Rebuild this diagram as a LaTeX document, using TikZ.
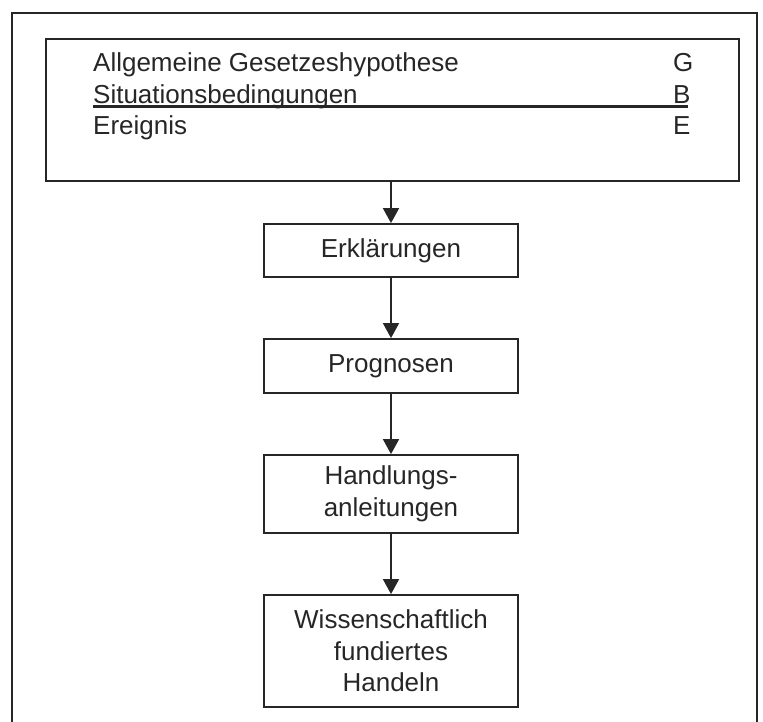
\documentclass[tikz,border=0pt]{standalone}
\usepackage{fontspec}
\setmainfont{Liberation Sans}
\usetikzlibrary{arrows.meta}

\tikzset{
  frameline/.style={line width=1.8pt, draw=black!85},
  flowbox/.style={draw=black!85, line width=1.8pt, minimum width=254pt, inner sep=0pt,
    align=center, font=\fontsize{26}{31.5}\selectfont, text=black!85},
  rowtext/.style={inner sep=0pt, anchor=base west, font=\fontsize{26}{31.5}\selectfont, text=black!85},
  flowarrow/.style={line width=1.8pt, draw=black!85,
    -{Triangle[length=15pt,width=16pt]}}
}

\begin{document}
\begin{tikzpicture}[x=1pt,y=-1pt]
  \useasboundingbox (0,0) rectangle (763,722);

  % outer frame, open at the bottom edge
  \draw[frameline] (12,722) -- (12,13) -- (757,13) -- (757,722);

  % explanation scheme box
  \node[draw=black!85, line width=1.8pt, minimum width=693pt, minimum height=142pt, inner sep=0pt]
    (scheme) at (392.5,110) {};
  \node[rowtext] (lawtxt)  at (93,72)  {Allgemeine Gesetzeshypothese};
  \node[rowtext] (condtxt) at (93,104) {Situationsbedingungen};
  \node[rowtext] (evtxt)   at (93,135) {Ereignis};
  \node[rowtext] (lawsym)  at (673,72)  {G};
  \node[rowtext] (condsym) at (673,104) {B};
  \node[rowtext] (evsym)   at (673,135) {E};
  \draw[line width=2.4pt, black!85] (93,106.5) -- (688,106.5);

  % flow of boxes
  \node[flowbox, minimum height=53pt]  (expl) at (391,250.5) {Erklärungen};
  \node[flowbox, minimum height=54pt]  (prog) at (391,366)   {Prognosen};
  \node[flowbox, minimum height=78pt]  (hand) at (391,494)   {Handlungs-\\anleitungen};
  \node[flowbox, minimum height=112pt] (act)  at (391,651)   {Wissenschaftlich\\fundiertes\\ Handeln};

  % connectors
  \draw[flowarrow] (expl.north |- scheme.south) -- (expl.north);
  \draw[flowarrow] (expl) -- (prog);
  \draw[flowarrow] (prog) -- (hand);
  \draw[flowarrow] (hand) -- (act);
\end{tikzpicture}
\end{document}
